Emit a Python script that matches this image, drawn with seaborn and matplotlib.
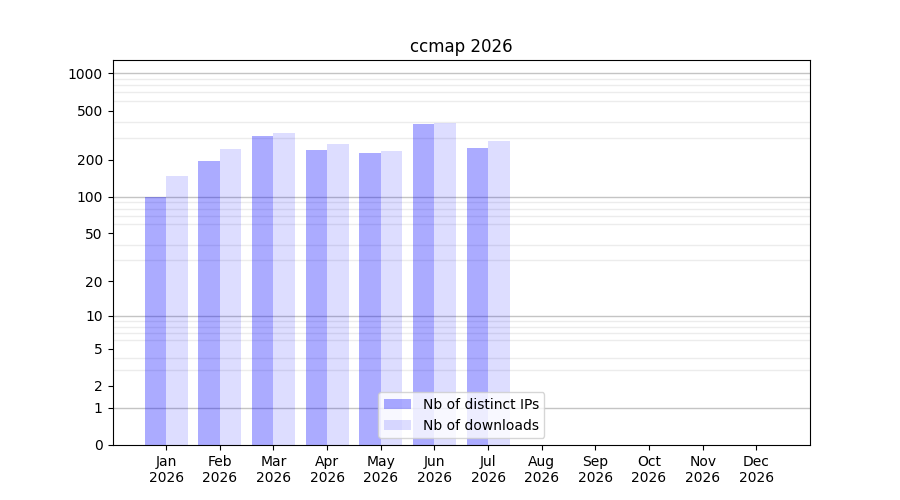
import numpy as np
import pandas as pd
import seaborn as sns
import matplotlib
matplotlib.use("Agg")
import matplotlib.pyplot as plt
from matplotlib.ticker import FixedLocator, NullFormatter

months = ["Jan", "Feb", "Mar", "Apr", "May", "Jun", "Jul",
          "Aug", "Sep", "Oct", "Nov", "Dec"]
year = "2026"
distinct_ips = [99, 194, 310, 238, 225, 387, 248]
downloads = [147, 243, 327, 267, 234, 394, 282]
series = ["Nb of distinct IPs", "Nb of downloads"]

ytick_values = [0, 1, 2, 5, 10, 20, 50, 100, 200, 500, 1000]
decades = [1, 10, 100, 1000]

labels = [f"{m}\n{year}" for m in months]
df = pd.DataFrame({
    "month": labels[:len(distinct_ips)] * 2,
    "value": distinct_ips + downloads,
    "series": [series[0]] * len(distinct_ips) + [series[1]] * len(downloads),
})

fig, ax = plt.subplots(figsize=(9, 5), dpi=100)

sns.barplot(data=df, x="month", y="value", hue="series", order=labels,
            hue_order=series, palette=["blue", "blue"], width=0.8,
            saturation=1, legend=False, ax=ax, zorder=2)

# transparency per series
for cont, a in zip(ax.containers, [0.33, 0.135]):
    for bar in cont:
        bar.set_alpha(a)
        bar.set_edgecolor("none")

# y axis as log10(x + 1)
ax.set_yscale("function", functions=(lambda v: np.log10(np.maximum(v, 0) + 1),
                                      lambda v: 10 ** v - 1))
ax.set_ylim(0, 1280)
ax.yaxis.set_major_locator(FixedLocator(ytick_values))
ax.set_yticklabels([str(v) for v in ytick_values])

minor = [m * d for d in [1, 10, 100] for m in range(2, 10)]
ax.yaxis.set_minor_locator(FixedLocator(minor))
ax.yaxis.set_minor_formatter(NullFormatter())
ax.tick_params(axis="y", which="minor", length=0)
ax.grid(False)
ax.grid(axis="y", which="minor", color="#ececec", linewidth=1, zorder=0)
ax.hlines(decades, -1, 12, colors="#c4c4c4", linewidth=1, zorder=1)

ax.set_xlim(-1, 12)
ax.set_xlabel("")
ax.set_ylabel("")
ax.set_title("ccmap 2026")
ax.set_axisbelow(True)

ax.legend(ax.containers, series, loc="lower center")

fig.savefig("out.png", dpi=100)
